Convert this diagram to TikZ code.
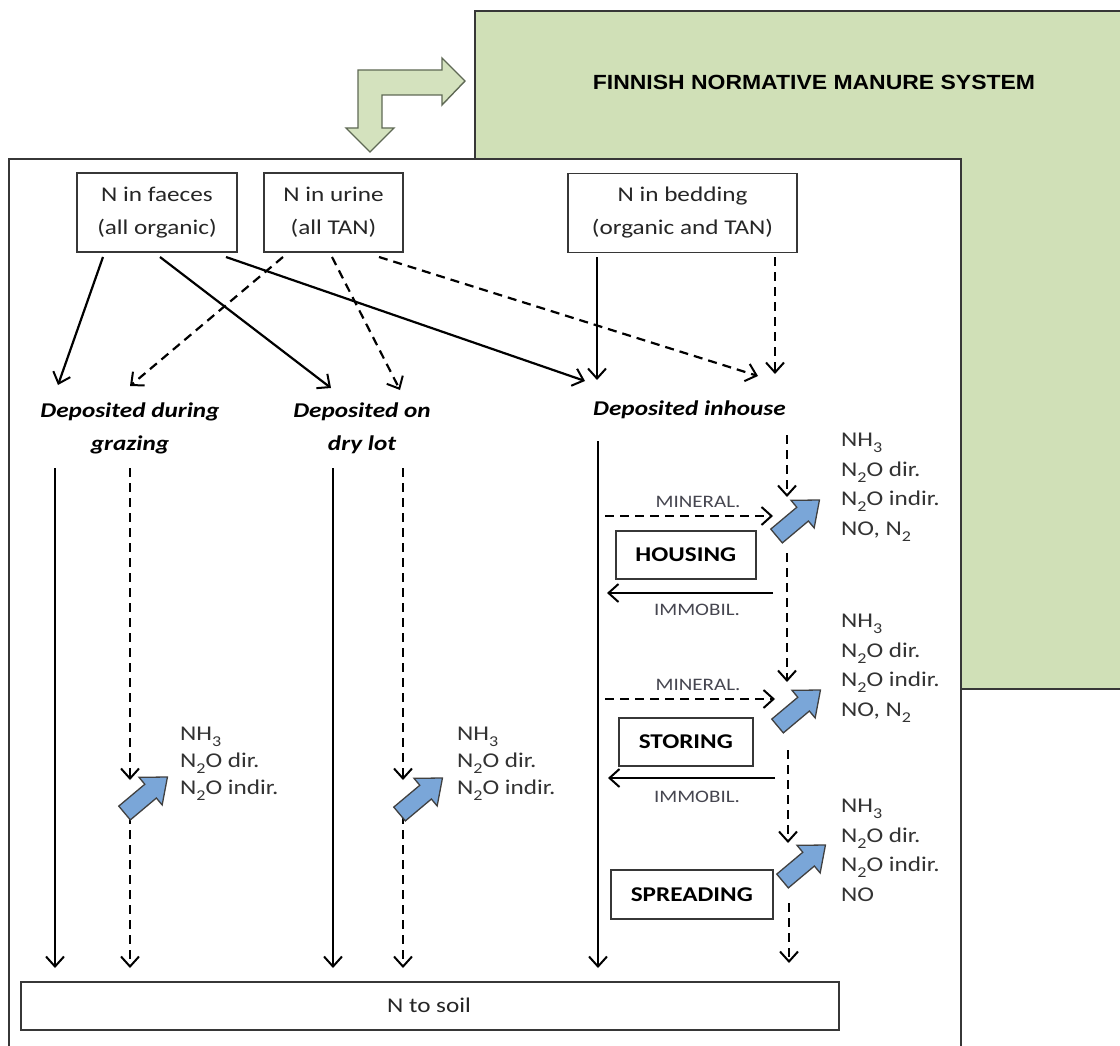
\documentclass[tikz,border=0pt]{standalone}
\usepackage{fontspec}
\setmainfont{Carlito}[FakeStretch=1.2]
\newfontfamily\titlefont{Liberation Sans}[FakeStretch=1.12]
\usetikzlibrary{arrows.meta}
\definecolor{boxgreen}{RGB}{208,224,183}
\definecolor{arrowgreen}{RGB}{212,226,190}
\definecolor{arrowedge}{RGB}{95,105,85}
\definecolor{bluefill}{RGB}{122,166,216}
\definecolor{labelgray}{RGB}{70,70,80}
\definecolor{framegray}{RGB}{55,55,55}
\newcommand\lowsub[1]{\raisebox{-0.3em}{\fontsize{15}{15}\selectfont #1}}
\newcommand\emitarrow[1]{\draw[bluearr, shift={(#1)}, rotate=40] (-28,-9) -- (6,-9) -- (6,-18) -- (28,0) -- (6,18) -- (6,9) -- (-28,9) -- cycle;}
\begin{document}
\begin{tikzpicture}[x=1pt,y=-1pt,
  txt/.style={font=\fontsize{21}{33}\selectfont, inner sep=0pt, text=black!85},
  srcbox/.style={txt, draw=framegray, line width=1.6pt, align=center, minimum height=79pt},
  stagebox/.style={draw=framegray, line width=1.6pt, inner sep=0pt, font=\fontsize{21}{25}\selectfont\bfseries},
  dep/.style={font=\fontsize{21}{33}\selectfont\bfseries\itshape, inner sep=0pt, align=center},
  emit/.style={font=\fontsize{21}{29.5}\selectfont, inner sep=0pt, align=left, anchor=north west, text=black!80},
  emitl/.style={emit, font=\fontsize{21}{27}\selectfont},
  small/.style={font=\fontsize{17.5}{17.5}\selectfont, text=labelgray, inner sep=0pt},
  arr/.style={-{Straight Barb[length=10pt,width=18pt,line width=2pt]}, line width=2.2pt, draw=black},
  dsh/.style={arr, dash pattern=on 9pt off 6pt},
  bluearr/.style={fill=bluefill, draw=black!75, line width=1.3pt, line join=miter},
]
\useasboundingbox (0,0) rectangle (1120,1046);
\clip (0,0) rectangle (1120,1046);

% green system box
\node[fill=boxgreen, draw=framegray, line width=1.6pt, anchor=north west, minimum width=700pt, minimum height=678pt, inner sep=0pt] (finnish) at (474,10) {};
\node[font=\titlefont\bfseries\fontsize{20.5}{24}\selectfont, inner sep=0pt] (title) at (814,82) {FINNISH NORMATIVE MANURE SYSTEM};

% bent arrow
\draw[fill=arrowgreen, draw=arrowedge, line width=1.4pt, line join=miter]
  (358,70) -- (442,70) -- (442,58) -- (465,81) -- (442,105) -- (442,95) -- (382,95)
  -- (382,128) -- (394,128) -- (370,152) -- (346,128) -- (358,128) -- cycle;

% main frame
\node[fill=white, draw=framegray, line width=2pt, anchor=north west, minimum width=952pt, minimum height=920pt, inner sep=0pt] (frame) at (8,158) {};

% source boxes
\node[srcbox, minimum width=160pt] (faeces) at (157,212.5) {N in faeces\\(all organic)};
\node[srcbox, minimum width=139pt] (urine) at (333.5,212.5) {N in urine\\(all TAN)};
\node[srcbox, minimum width=229pt] (bedding) at (682.5,213) {N in bedding\\(organic and TAN)};

% deposition labels
\node[dep] (grazing) at (130,428) {Deposited during\\grazing};
\node[dep] (drylot) at (362,428) {Deposited on\\dry lot};
\node[dep, anchor=west] (inhouse) at (593,410) {Deposited inhouse};

% coordinates for top arrows
\coordinate (f1) at (103,257); \coordinate (g1) at (58,385);
\coordinate (f2) at (160,257); \coordinate (d1) at (331,388);
\coordinate (f3) at (226,257); \coordinate (h1) at (585,381);
\coordinate (u1) at (283,257); \coordinate (g2) at (130,386);
\coordinate (u2) at (332,257); \coordinate (d2) at (400,390);
\coordinate (u3) at (379,257); \coordinate (h3) at (758,376);
\coordinate (b1) at (597,257); \coordinate (h2) at (597,380);
\coordinate (b2) at (775,257); \coordinate (h4) at (775,374);

\draw[arr] (f1) -- (g1);
\draw[arr] (f2) -- (d1);
\draw[arr] (f3) -- (h1);
\draw[dsh] (u1) -- (g2);
\draw[dsh] (u2) -- (d2);
\draw[dsh] (u3) -- (h3);
\draw[arr] (b1) -- (h2);
\draw[dsh] (b2) -- (h4);

% soil box
\node[txt, draw=framegray, line width=1.6pt, anchor=north west, minimum width=818pt, minimum height=48pt] (soil) at (20,981) {};
\node[txt] (soiltext) at (429,1005) {N to soil};

% grazing column
\coordinate (gs0) at (55,468); \coordinate (gs1) at (55,968);
\coordinate (gd0) at (130,468); \coordinate (gd1) at (130,780);
\coordinate (gd2) at (130,815); \coordinate (gd3) at (130,968);
\draw[arr] (gs0) -- (gs1);
\draw[dsh] (gd0) -- (gd1);
\draw[dsh] (gd2) -- (gd3);
\emitarrow{146,795}
\node[emitl] (emg) at (180,727) {NH\lowsub{3}\\N\lowsub{2}O dir.\\N\lowsub{2}O indir.};

% dry lot column
\coordinate (ds0) at (333,468); \coordinate (ds1) at (333,968);
\coordinate (dd0) at (403,468); \coordinate (dd1) at (403,780);
\coordinate (dd2) at (403,815); \coordinate (dd3) at (403,968);
\draw[arr] (ds0) -- (ds1);
\draw[dsh] (dd0) -- (dd1);
\draw[dsh] (dd2) -- (dd3);
\emitarrow{421,796}
\node[emitl] (emd) at (457,727) {NH\lowsub{3}\\N\lowsub{2}O dir.\\N\lowsub{2}O indir.};

% inhouse column
\coordinate (is0) at (598,441); \coordinate (is1) at (598,968);
\draw[arr] (is0) -- (is1);
\coordinate (id0) at (787,435); \coordinate (id1) at (787,497);
\coordinate (id2) at (787,553); \coordinate (id3) at (787,682);
\coordinate (id4) at (788,750); \coordinate (id5) at (788,843);
\coordinate (id6) at (789,903); \coordinate (id7) at (789,963);
\draw[dsh] (id0) -- (id1);
\draw[dsh] (id2) -- (id3);
\draw[dsh] (id4) -- (id5);
\draw[dsh] (id6) -- (id7);

% housing
\node[stagebox, anchor=north west, minimum width=140pt, minimum height=48pt] (housing) at (615,530) {HOUSING};
\coordinate (m1a) at (605,516); \coordinate (m1b) at (773,516);
\coordinate (i1a) at (773,593); \coordinate (i1b) at (607,593);
\draw[dsh] (m1a) -- (m1b);
\draw[arr] (i1a) -- (i1b);
\node[small] (min1) at (698,502) {MINERAL.};
\node[small] (imm1) at (697,610) {IMMOBIL.};
\emitarrow{798,518}
\node[emit] (emh) at (841,433) {NH\lowsub{3}\\N\lowsub{2}O dir.\\N\lowsub{2}O indir.\\NO, N\lowsub{2}};

% storing
\node[stagebox, anchor=north west, minimum width=134pt, minimum height=48pt] (storing) at (618,717) {STORING};
\coordinate (m2a) at (605,699); \coordinate (m2b) at (775,699);
\coordinate (i2a) at (775,778); \coordinate (i2b) at (608,778);
\draw[dsh] (m2a) -- (m2b);
\draw[arr] (i2a) -- (i2b);
\node[small] (min2) at (698,685) {MINERAL.};
\node[small] (imm2) at (697,797) {IMMOBIL.};
\emitarrow{799,708}
\node[emit] (ems) at (841,614) {NH\lowsub{3}\\N\lowsub{2}O dir.\\N\lowsub{2}O indir.\\NO, N\lowsub{2}};

% spreading
\node[stagebox, anchor=north west, minimum width=162pt, minimum height=49pt] (spreading) at (610,869) {SPREADING};
\emitarrow{804,863}
\node[emit] (emsp) at (841,799) {NH\lowsub{3}\\N\lowsub{2}O dir.\\N\lowsub{2}O indir.\\NO};
\end{tikzpicture}
\end{document}
